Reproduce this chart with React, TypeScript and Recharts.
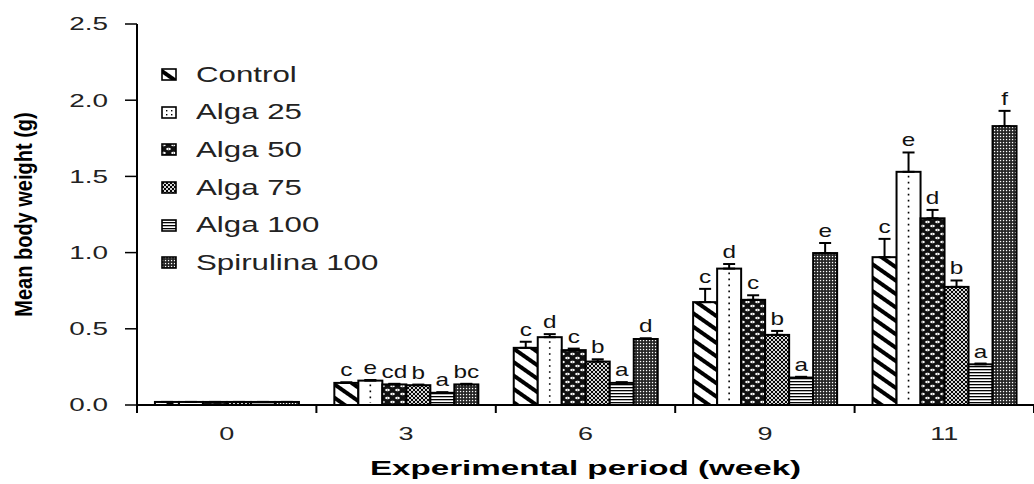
import { BarChart, Bar, XAxis, YAxis, ErrorBar, Legend } from "recharts";

const weeks = ["0", "3", "6", "9", "11"];

const control = [0.02, 0.145, 0.375, 0.675, 0.97];
const alga25 = [0.02, 0.16, 0.445, 0.895, 1.53];
const alga50 = [0.02, 0.135, 0.36, 0.69, 1.225];
const alga75 = [0.02, 0.13, 0.285, 0.46, 0.775];
const alga100 = [0.02, 0.08, 0.145, 0.18, 0.267];
const spirulina = [0.02, 0.135, 0.433, 0.997, 1.83];

// upper error only (SE drawn above the bar)
const controlErr = [0, 0.004, 0.04, 0.087, 0.12];
const alga25Err = [0, 0.004, 0.02, 0.03, 0.127];
const alga50Err = [0, 0.004, 0.01, 0.03, 0.055];
const alga75Err = [0, 0.004, 0.015, 0.026, 0.042];
const alga100Err = [0, 0.004, 0.005, 0.005, 0.005];
const spirulinaErr = [0, 0.004, 0.005, 0.066, 0.1];

const controlLetters = ["", "c", "c", "c", "c"];
const alga25Letters = ["", "e", "d", "d", "e"];
const alga50Letters = ["", "cd", "c", "c", "d"];
const alga75Letters = ["", "b", "b", "b", "b"];
const alga100Letters = ["", "a", "a", "a", "a"];
const spirulinaLetters = ["", "bc", "d", "e", "f"];

const yTicks = [0, 0.5, 1, 1.5, 2, 2.5];

const FONT = '"Liberation Sans", Arial, sans-serif';

const SERIES = [
  { key: "control", name: "Control", values: control, err: controlErr, letters: controlLetters, fill: "url(#p-control)" },
  { key: "alga25", name: "Alga 25", values: alga25, err: alga25Err, letters: alga25Letters, fill: "#fff", dotted: true },
  { key: "alga50", name: "Alga 50", values: alga50, err: alga50Err, letters: alga50Letters, fill: "url(#p-alga50)" },
  { key: "alga75", name: "Alga 75", values: alga75, err: alga75Err, letters: alga75Letters, fill: "url(#p-alga75)" },
  { key: "alga100", name: "Alga 100", values: alga100, err: alga100Err, letters: alga100Letters, fill: "url(#p-alga100)" },
  { key: "spirulina", name: "Spirulina 100", values: spirulina, err: spirulinaErr, letters: spirulinaLetters, fill: "url(#p-spirulina)" },
];

const data = weeks.map((w, i) => {
  const row: any = { week: w };
  SERIES.forEach((s) => {
    row[s.key] = s.values[i];
    row[s.key + "Err"] = [0, s.err[i]];
    row[s.key + "Letter"] = s.letters[i];
  });
  return row;
});

const makeShape = (key: string, fill: string, dotted?: boolean) => (props: any) => {
  const { x, y, width, height, payload } = props;
  const value = payload[key];
  const err = payload[key + "Err"][1];
  const letter = payload[key + "Letter"];
  const errPx = value > 0 ? (err * height) / value : 0;
  const cx = x + width / 2;
  return (
    <g>
      <rect x={x} y={y} width={width} height={height} fill={fill} stroke="#000" strokeWidth={2} />
      {dotted && height > 8 && (
        <line x1={cx} x2={cx} y1={y + 4} y2={y + height - 2} stroke="#000" strokeWidth={1.6} strokeDasharray="1.6 4.4" />
      )}
      {letter && (
        <text
          transform={`translate(${cx},${y - errPx - 6}) scale(1.35,1)`}
          textAnchor="middle"
          fontSize={18}
          fontFamily={FONT}
          fill="#111"
        >
          {letter}
        </text>
      )}
    </g>
  );
};

const YTick = (props: any) => {
  const { x, y, payload } = props;
  return (
    <text
      transform={`translate(${x},${y}) scale(1.55,1)`}
      textAnchor="end"
      dy="0.36em"
      fontSize={18}
      fontFamily={FONT}
      fill="#222"
    >
      {Number(payload.value).toFixed(1)}
    </text>
  );
};

const XTick = (props: any) => {
  const { x, y, payload, index, visibleTicksCount } = props;
  const half = payload.offset ?? (1034 - 137) / weeks.length / 2;
  return (
    <g>
      <line x1={x - half} x2={x - half} y1={y} y2={y + 8} stroke="#000" strokeWidth={2} />
      {index === visibleTicksCount - 1 && (
        <line x1={x + half} x2={x + half} y1={y} y2={y + 8} stroke="#000" strokeWidth={2} />
      )}
      <text
        transform={`translate(${x},${y + 29}) scale(1.5,1)`}
        textAnchor="middle"
        dy="0.36em"
        fontSize={18}
        fontFamily={FONT}
        fill="#222"
      >
        {payload.value}
      </text>
    </g>
  );
};

const YTitle = (props: any) => {
  const vb = props.viewBox;
  const cx = vb.x + 24;
  const cy = vb.y + vb.height / 2;
  return (
    <text
      transform={`translate(${cx},${cy}) rotate(-90) scale(1,1.15)`}
      textAnchor="middle"
      dy="0.36em"
      fontSize={20}
      fontWeight="bold"
      fontFamily={FONT}
      fill="#000"
    >
      Mean body weight (g)
    </text>
  );
};

const XTitle = (props: any) => {
  const vb = props.viewBox;
  const cx = vb.x + vb.width / 2;
  const cy = vb.y + 62;
  return (
    <text
      transform={`translate(${cx},${cy}) scale(1.58,1)`}
      textAnchor="middle"
      dy="0.36em"
      fontSize={21}
      fontWeight="bold"
      fontFamily={FONT}
      fill="#000"
    >
      Experimental period (week)
    </text>
  );
};

const LegendBox = () => (
  <div style={{ fontFamily: FONT }}>
    {SERIES.map((s) => (
      <div key={s.key} style={{ height: 37.6, display: "flex", alignItems: "center" }}>
        <svg width={16} height={13} style={{ display: "block" }}>
          <rect x={1} y={1} width={14} height={11} fill={s.fill} stroke="#000" strokeWidth={1.6} />
          {s.dotted && (
            <g fill="#000">
              <rect x={5} y={4} width={1.4} height={1.4} />
              <rect x={5} y={8} width={1.4} height={1.4} />
              <rect x={10} y={4} width={1.4} height={1.4} />
              <rect x={10} y={8} width={1.4} height={1.4} />
            </g>
          )}
        </svg>
        <span
          style={{
            marginLeft: 19,
            fontSize: 22,
            color: "#222",
            display: "inline-block",
            transform: "scaleX(1.42)",
            transformOrigin: "left center",
            whiteSpace: "nowrap",
          }}
        >
          {s.name}
        </span>
      </div>
    ))}
  </div>
);

export default function App() {
  return (
    <div style={{ position: "absolute", left: 0, top: 0, width: 1034, height: 484, background: "#fff" }}>
      <svg width={0} height={0} style={{ position: "absolute" }}>
        <defs>
          <pattern id="p-control" width={11} height={11} patternUnits="userSpaceOnUse" patternTransform="rotate(35)">
            <rect width={11} height={11} fill="#fff" />
            <rect width={11} height={4} fill="#000" />
          </pattern>
          <pattern id="p-alga50" width={10} height={8} patternUnits="userSpaceOnUse">
            <rect width={10} height={8} fill="#111" />
            <ellipse cx={2.5} cy={2} rx={2.3} ry={1.3} fill="#fff" />
            <ellipse cx={7.5} cy={6} rx={2.3} ry={1.3} fill="#fff" />
            <circle cx={2.5} cy={2} r={0.6} fill="#333" />
            <circle cx={7.5} cy={6} r={0.6} fill="#333" />
          </pattern>
          <pattern id="p-alga75" width={4} height={4} patternUnits="userSpaceOnUse">
            <rect width={4} height={4} fill="#fff" />
            <circle cx={0} cy={0} r={1.2} fill="#000" />
            <circle cx={4} cy={0} r={1.2} fill="#000" />
            <circle cx={0} cy={4} r={1.2} fill="#000" />
            <circle cx={4} cy={4} r={1.2} fill="#000" />
            <circle cx={2} cy={2} r={1.2} fill="#000" />
          </pattern>
          <pattern id="p-alga100" width={4} height={3} patternUnits="userSpaceOnUse">
            <rect width={4} height={3} fill="#fff" />
            <rect width={4} height={1.3} fill="#000" />
          </pattern>
          <pattern id="p-spirulina" width={3} height={3} patternUnits="userSpaceOnUse">
            <rect width={3} height={3} fill="#222" />
            <rect x={0.9} y={0.9} width={1.3} height={1.3} fill="#fff" />
          </pattern>
        </defs>
      </svg>
      <BarChart
        width={1034}
        height={484}
        data={data}
        margin={{ top: 24, right: 0, left: 0, bottom: 0 }}
        barCategoryGap="10%"
        barGap={0}
      >
        <XAxis
          dataKey="week"
          height={79}
          axisLine={{ stroke: "#000", strokeWidth: 2 }}
          tickLine={false}
          tickSize={0}
          tickMargin={0}
          tick={<XTick />}
          interval={0}
          label={XTitle}
        />
        <YAxis
          width={137}
          domain={[0, 2.5]}
          ticks={yTicks}
          interval={0}
          axisLine={{ stroke: "#000", strokeWidth: 2 }}
          tickLine={{ stroke: "#000", strokeWidth: 1.5 }}
          tickSize={12}
          tickMargin={17}
          tick={<YTick />}
          label={YTitle}
        />
        <Legend
          layout="vertical"
          align="center"
          verticalAlign="middle"
          wrapperStyle={{ left: 161, top: 56, width: 320 }}
          content={<LegendBox />}
        />
        {SERIES.map((s) => (
          <Bar
            key={s.key}
            dataKey={s.key}
            name={s.name}
            fill={s.fill}
            shape={makeShape(s.key, s.fill, s.dotted)}
            isAnimationActive={false}
          >
            <ErrorBar
              dataKey={s.key + "Err"}
              direction="y"
              width={6}
              stroke="#000"
              strokeWidth={2}
              isAnimationActive={false}
            />
          </Bar>
        ))}
      </BarChart>
    </div>
  );
}
